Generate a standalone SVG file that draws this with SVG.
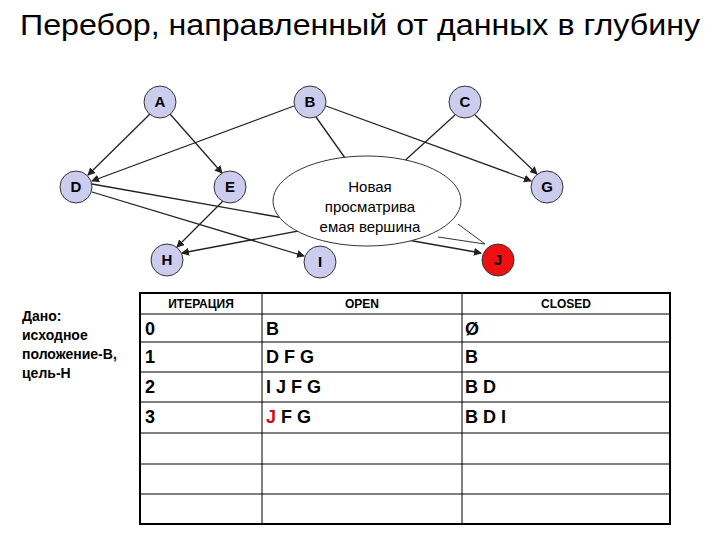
<svg xmlns="http://www.w3.org/2000/svg" width="720" height="540" viewBox="0 0 720 540">
<style>
.n{fill:#ccccee;stroke:#333;stroke-width:1}
.t{font-family:"Liberation Sans",Arial,sans-serif;font-weight:bold;font-size:15px;text-anchor:middle}
.e{stroke:#222;stroke-width:1.3;fill:none}
.a{marker-end:url(#ar)}
.tx{font-family:"Liberation Sans",Arial,sans-serif}
.g{stroke:#000;stroke-width:1}
</style>
<defs><marker id="ar" markerWidth="8" markerHeight="8" refX="7" refY="4" orient="auto" markerUnits="userSpaceOnUse"><path d="M0,0 L8,4 L0,8 z" fill="#222"/></marker></defs>
<rect width="720" height="540" fill="#fff"/>
<text class="tx" x="360" y="35" font-size="30" text-anchor="middle" textLength="680" lengthAdjust="spacingAndGlyphs">Перебор, направленный от данных в глубину</text>
<g id="connectors">
<line class="e a" x1="150" y1="114" x2="88" y2="175"/>
<line class="e a" x1="170" y1="114" x2="222" y2="173"/>
<line class="e a" x1="294" y1="106" x2="92" y2="181"/>
<line class="e a" x1="326" y1="106" x2="531" y2="181"/>
<line class="e" x1="316" y1="117" x2="350" y2="165"/>
<line class="e" x1="455" y1="115" x2="400" y2="165"/>
<line class="e a" x1="475" y1="115" x2="537" y2="174"/>
<line class="e a" x1="92" y1="192" x2="304" y2="256"/>
<line class="e a" x1="92" y1="184" x2="481" y2="253"/>
<line class="e a" x1="224" y1="200" x2="177" y2="247"/>
<line class="e a" x1="330" y1="225" x2="182" y2="253"/>
</g>
<g id="callout">
<path d="M458,224 L485,244 L438,237" fill="#fff" stroke="#333" stroke-width="1"/>
<ellipse cx="367" cy="201" rx="94" ry="45" fill="#fff" stroke="#333" stroke-width="1"/>
<path d="M441,234 L483,243 L455,227 Z" fill="#fff" stroke="none"/>
<text class="tx" font-size="15" text-anchor="middle"><tspan x="370" y="192">Новая</tspan><tspan x="370" y="212">просматрива</tspan><tspan x="370" y="232">емая вершина</tspan></text>
</g>
<g id="A"><circle class="n" cx="160" cy="102" r="16"/><text class="t" x="160" y="107">A</text></g>
<g id="B"><circle class="n" cx="310" cy="102" r="16"/><text class="t" x="310" y="107">B</text></g>
<g id="C"><circle class="n" cx="465" cy="102" r="16"/><text class="t" x="465" y="107">C</text></g>
<g id="D"><circle class="n" cx="76" cy="187" r="16"/><text class="t" x="76" y="192">D</text></g>
<g id="E"><circle class="n" cx="230" cy="187" r="16"/><text class="t" x="230" y="192">E</text></g>
<g id="G"><circle class="n" cx="547" cy="187" r="16"/><text class="t" x="547" y="192">G</text></g>
<g id="H"><circle class="n" cx="167" cy="260" r="16"/><text class="t" x="167" y="265">H</text></g>
<g id="I"><circle class="n" cx="320" cy="262" r="16"/><text class="t" x="320" y="267">I</text></g>
<g id="J"><circle cx="498" cy="260" r="16" fill="#ee1111" stroke="#333"/><text class="t" x="498" y="265">J</text></g>
<g id="given" class="tx" font-size="14" font-weight="bold">
<text x="22" y="321">Дано:</text><text x="22" y="340">исходное</text><text x="22" y="359">положение-В,</text><text x="22" y="378">цель-Н</text>
</g>
<g id="table">
<rect x="140" y="293" width="530" height="231" fill="none" stroke="#000" stroke-width="2"/>
<line class="g" x1="140" y1="314" x2="670" y2="314"/>
<line class="g" x1="140" y1="342" x2="670" y2="342"/>
<line class="g" x1="140" y1="372" x2="670" y2="372"/>
<line class="g" x1="140" y1="402" x2="670" y2="402"/>
<line class="g" x1="140" y1="433" x2="670" y2="433"/>
<line class="g" x1="140" y1="464" x2="670" y2="464"/>
<line class="g" x1="140" y1="494" x2="670" y2="494"/>
<line class="g" x1="262" y1="293" x2="262" y2="524"/>
<line class="g" x1="462" y1="293" x2="462" y2="524"/>
<g class="tx" font-size="12" font-weight="bold" text-anchor="middle"><text x="201" y="308">ИТЕРАЦИЯ</text><text x="362" y="308">OPEN</text><text x="566" y="308">CLOSED</text></g>
<g class="tx" font-size="18" font-weight="bold">
<text x="145" y="335">0</text><text x="266" y="335">B</text><text x="465" y="335">Ø</text>
<text x="145" y="363">1</text><text x="266" y="363">D F G</text><text x="465" y="363">B</text>
<text x="145" y="393">2</text><text x="266" y="393">I J F G</text><text x="465" y="393">B D</text>
<text x="145" y="423">3</text><text x="266" y="423"><tspan fill="#cc1111">J</tspan> F G</text><text x="465" y="423">B D I</text>
</g>
</g>
</svg>
